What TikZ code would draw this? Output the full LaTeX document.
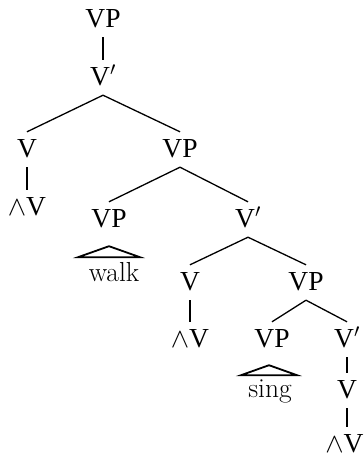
\documentclass[tikz,border=0pt]{standalone}
\usepackage{fix-cm}
\usepackage{fontspec}
\usetikzlibrary{calc}
\newfontfamily\labfont{Liberation Serif}
\tikzset{
  lab/.style={font=\labfont\fontsize{27.5}{32}\selectfont, inner sep=0pt, text height=25pt, text depth=10pt, anchor=base},
  word/.style={font=\fontsize{27.5}{32}\selectfont, inner sep=0pt, anchor=base},
  edge/.style={line width=1.3pt},
  roof/.style={line width=1.8pt, line join=miter}
}
\begin{document}
\begin{tikzpicture}[x=1pt,y=-1pt]
\useasboundingbox (0,0) rectangle (364,459);
\node[lab] (vp0) at (103,27) {VP};
\node[lab] (vb0) at (103,85) {V$'$};
\node[lab] (v1) at (27,157) {V};
\node[lab] (w1) at (27,215) {$\wedge$V};
\node[lab] (vp1) at (180,157) {VP};
\node[lab] (vp2) at (109,227) {VP};
\node[lab] (vb2) at (248,227) {V$'$};
\node[word] (walk) at (114,281) {walk};
\node[lab] (v3) at (190,290) {V};
\node[lab] (w3) at (190,347) {$\wedge$V};
\node[lab] (vp3) at (306,290) {VP};
\node[lab] (vp4) at (272,347) {VP};
\node[lab] (vb4) at (347,347) {V$'$};
\node[word] (sing) at (270,397) {sing};
\node[lab] (v5) at (347,398) {V};
\node[lab] (w5) at (344.5,452) {$\wedge$V};
\draw[edge] (vp0.south) -- (vb0.north);
\draw[edge] (vb0.south) -- (v1.north);
\draw[edge] (vb0.south) -- (vp1.north);
\draw[edge] (v1.south) -- (w1.north);
\draw[edge] (vp1.south) -- (vp2.north);
\draw[edge] (vp1.south) -- (vb2.north);
\draw[edge] (vb2.south) -- (v3.north);
\draw[edge] (vb2.south) -- (vp3.north);
\draw[edge] (v3.south) -- (w3.north);
\draw[edge] (vp3.south) -- (vp4.north);
\draw[edge] (vp3.south) -- (vb4.north);
\draw[edge] (vb4.south) -- (v5.north);
\draw[edge] (v5.south) -- (v5.south |- w5.north);
\draw[roof] ($(vp2.south)+(0,9)$) -- ($(vp2.south)+(-31,20)$) -- ($(vp2.south)+(31,20)$) -- cycle;
\draw[roof] ($(vp4.south)+(-3,8)$) -- ($(vp4.south)+(-31,18)$) -- ($(vp4.south)+(25,18)$) -- cycle;
\end{tikzpicture}
\end{document}
